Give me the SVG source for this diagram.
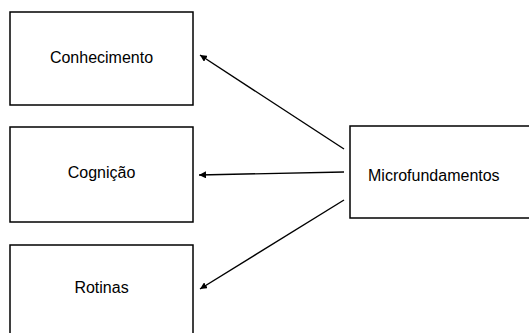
<svg xmlns="http://www.w3.org/2000/svg" width="529" height="333" viewBox="0 0 529 333">
<style>
.box{fill:#fff;stroke:#000;stroke-width:1.5}
.lbl{font-family:"Liberation Sans",Arial,sans-serif;font-size:16px;fill:#000}
.c{text-anchor:middle}
.edge{stroke:#000;stroke-width:1.4;fill:none;marker-end:url(#ah)}
</style>
<defs>
<marker id="ah" viewBox="0 0 10 10" refX="10" refY="5" markerWidth="7" markerHeight="7" orient="auto" markerUnits="userSpaceOnUse">
<path d="M0,0 L10,5 L0,10 z" fill="#000"/>
</marker>
</defs>
<rect width="529" height="333" fill="#fff"/>
<g id="conhecimento">
<rect class="box" x="10" y="12" width="183" height="93"/>
<text class="lbl c" x="101.5" y="62.7">Conhecimento</text>
</g>
<g id="cognicao">
<rect class="box" x="10" y="127" width="183" height="95"/>
<text class="lbl c" x="101.5" y="178.3">Cognição</text>
</g>
<g id="rotinas">
<rect class="box" x="10" y="245" width="183" height="100"/>
<text class="lbl c" x="101.5" y="293.3">Rotinas</text>
</g>
<g id="microfundamentos">
<rect class="box" x="350" y="126" width="190" height="92"/>
<text class="lbl" x="368" y="180.7">Microfundamentos</text>
</g>
<g id="connectors">
<line class="edge" x1="344" y1="149" x2="200" y2="55"/>
<line class="edge" x1="344" y1="172" x2="199" y2="175"/>
<line class="edge" x1="344" y1="200" x2="200" y2="289"/>
</g>
</svg>
